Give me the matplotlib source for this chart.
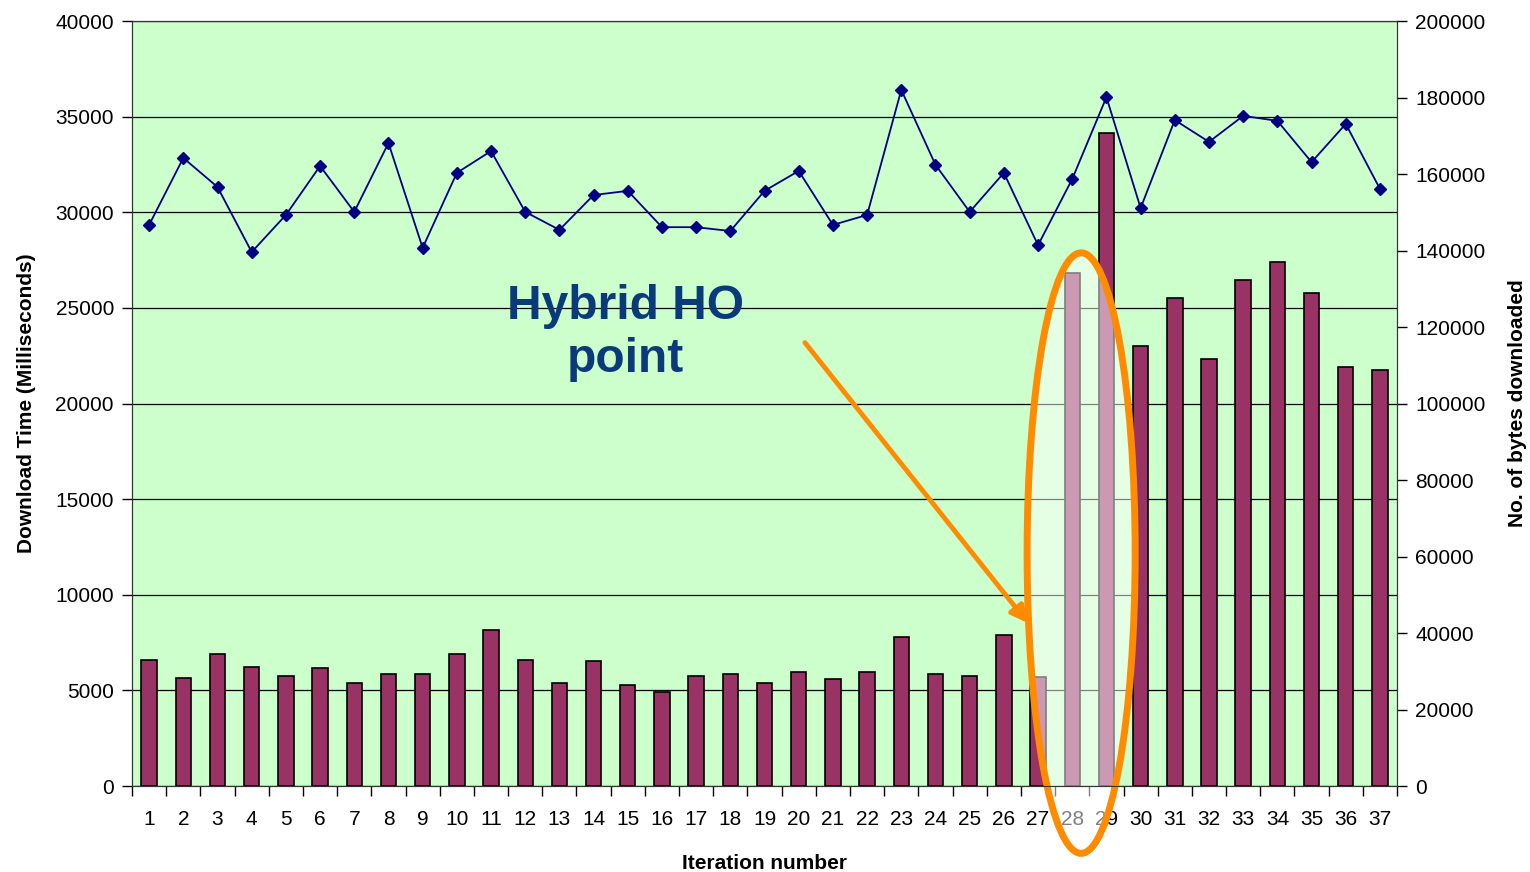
import matplotlib.pyplot as plt
from matplotlib.patches import Ellipse
from matplotlib.ticker import FixedLocator

plt.rcParams['font.family'] = ['Liberation Sans', 'DejaVu Sans']

# data
iterations = list(range(1, 38))
download_ms = [6600, 5650, 6900, 6220, 5750, 6170, 5390, 5860, 5860, 6900,
               8160, 6600, 5390, 6540, 5280, 4920, 5750, 5860, 5390, 5960,
               5600, 5960, 7790, 5860, 5750, 7900, 5700, 26850, 34150, 23000,
               25500, 22330, 26460, 27400, 25780, 21900, 21750]
bytes_dl = [146700, 164200, 156600, 139600, 149300, 162100, 150100, 168100,
            140700, 160300, 166000, 150100, 145400, 154500, 155600, 146100,
            146100, 145100, 155600, 160800, 146700, 149300, 182000, 162400,
            150100, 160300, 141400, 158700, 180100, 151100, 174100, 168400,
            175200, 173900, 163100, 173100, 156100]

fig = plt.figure(figsize=(15.3, 8.72), dpi=100)
ax = fig.add_axes([0.0863, 0.0986, 0.8268, 0.8773])
ax.set_facecolor('#ccffcc')

ax.bar(iterations, download_ms, width=0.45, color='#993366',
       edgecolor='black', linewidth=1.2, zorder=2)
ax.set_xlim(0.5, 37.5)
ax.set_ylim(0, 40000)
ax.set_yticks(range(0, 40001, 5000))
ax.yaxis.grid(True, color='black', linewidth=0.9, zorder=0)
ax.set_axisbelow(True)

# excel style: ticks between categories, labels in the middle
ax.set_xticks(iterations)
ax.set_xticklabels([str(i) for i in iterations])
ax.xaxis.set_minor_locator(FixedLocator([i + 0.5 for i in range(0, 38)]))
ax.tick_params(axis='x', which='major', length=0, pad=17, labelsize=15)
ax.tick_params(axis='x', which='minor', length=7, width=1, direction='out')
ax.tick_params(axis='y', length=7, width=1, labelsize=15, pad=6)

ax.set_xlabel('Iteration number', fontsize=15, fontweight='bold', labelpad=18)
ax.set_ylabel('Download Time (Milliseconds)', fontsize=15, fontweight='bold',
              family=['Liberation Sans Narrow', 'Liberation Sans'], labelpad=14)

ax2 = ax.twinx()
ax2.plot(iterations, bytes_dl, color='#000080', linewidth=1.3, marker='D',
         markersize=6, zorder=3)
ax2.set_ylim(0, 200000)
ax2.set_yticks(range(0, 200001, 20000))
ax2.tick_params(axis='y', length=7, width=1, labelsize=15, pad=6)
ax2.set_ylabel('No. of bytes downloaded', fontsize=15, fontweight='bold',
               family=['Liberation Sans Narrow', 'Liberation Sans'], labelpad=16)

for a in (ax, ax2):
    for s in a.spines.values():
        s.set_color('#333333')

# highlight of the handover point
ell = Ellipse((28.26, 12180), width=3.16, height=31400, facecolor='white',
              alpha=0.5, edgecolor='none', zorder=4, clip_on=False)
ax.add_patch(ell)
ell2 = Ellipse((28.26, 12180), width=3.16, height=31400, facecolor='none',
               edgecolor='#ff8c00', linewidth=5, zorder=5, clip_on=False)
ax.add_patch(ell2)

ax.annotate('', xy=(26.76, 8400), xytext=(20.13, 23300),
            arrowprops=dict(arrowstyle='-|>', color='#ff8c00', lw=3.5,
                            mutation_scale=25), zorder=5)
ax.text(14.92, 23700, 'Hybrid HO\npoint', ha='center', va='center',
        fontsize=34.5, fontweight='bold', color='#0b3a7a', linespacing=1.22,
        zorder=5)

fig.savefig('out.png', dpi=100)
